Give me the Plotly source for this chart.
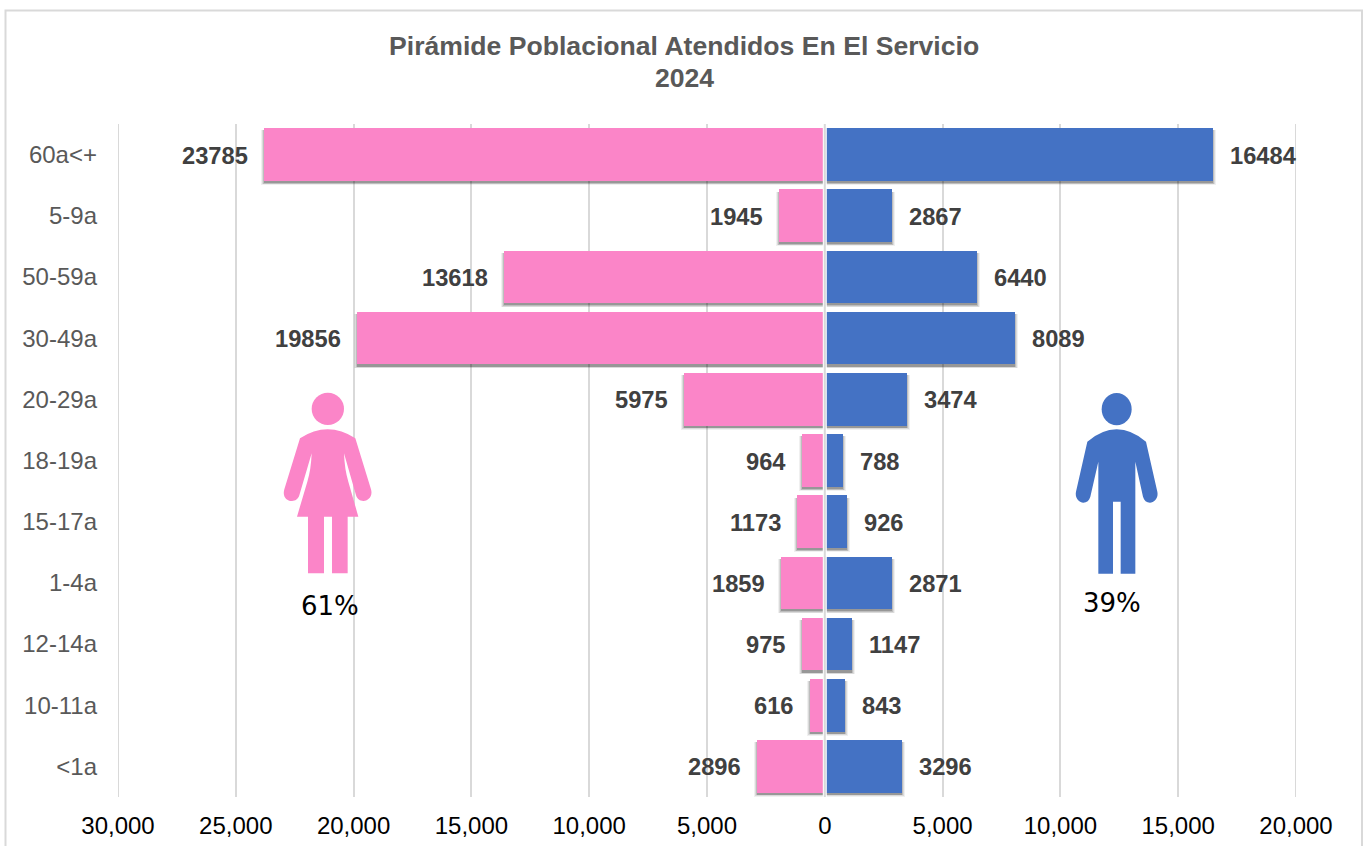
import plotly.graph_objects as go

W, H = 1370, 846
PL, PR, PT, PB = 118, 1296, 124, 797

categories = ["<1a", "10-11a", "12-14a", "1-4a", "15-17a", "18-19a", "20-29a", "30-49a", "50-59a", "5-9a", "60a<+"]
mujeres = [2896, 616, 975, 1859, 1173, 964, 5975, 19856, 13618, 1945, 23785]
hombres = [3296, 843, 1147, 2871, 926, 788, 3474, 8089, 6440, 2867, 16484]
tick_values = [-30000, -25000, -20000, -15000, -10000, -5000, 0, 5000, 10000, 15000, 20000]
tick_labels = ["30,000", "25,000", "20,000", "15,000", "10,000", "5,000", "0", "5,000", "10,000", "15,000", "20,000"]
title_line1 = "Pirámide Poblacional Atendidos En El Servicio"
title_line2 = "2024"
share_women = "61%"
share_men = "39%"

PINK = "#FB85C8"
BLUE = "#4472C4"
GRID = "#D9D9D9"
BAR_W = 0.86
ys = list(range(len(categories)))


def px(x):
    return (x - PL) / (PR - PL)


def py(y):
    return (PB - y) / (PB - PT)


def path(cmds, ox, oy):
    """Zoomed-crop outline (3x) to a paper-coordinate SVG path."""
    out = []
    for c in cmds:
        out.append(c[0])
        pts = c[1:]
        out.append(" ".join(f"{px(ox + pts[i] / 3):.5f},{py(oy + pts[i + 1] / 3):.5f}" for i in range(0, len(pts), 2)))
    return " ".join(out) + " Z"


woman = [
    ("M", 150, 205), ("Q", 233, 151, 316, 205), ("L", 363, 358), ("C", 370, 382, 350, 394, 340, 393),
    ("C", 330, 393, 322, 388, 318, 376), ("L", 282, 250), ("Q", 284, 300, 295, 335), ("L", 325, 440),
    ("L", 293, 440), ("L", 293, 610), ("L", 246, 610), ("L", 246, 440), ("L", 222, 440), ("L", 222, 610),
    ("L", 174, 610), ("L", 174, 440), ("L", 141, 440), ("L", 172, 335), ("Q", 183, 300, 185, 250),
    ("L", 148, 376), ("C", 144, 388, 136, 393, 126, 393), ("C", 112, 394, 96, 382, 103, 358),
]
man = [
    ("M", 112, 215), ("Q", 200, 141, 288, 215), ("L", 322, 365), ("C", 326, 385, 312, 398, 300, 398),
    ("C", 290, 398, 282, 392, 279, 380), ("L", 256, 275), ("L", 256, 611), ("L", 212, 611), ("L", 212, 395),
    ("L", 189, 395), ("L", 189, 611), ("L", 145, 611), ("L", 145, 275), ("L", 121, 380),
    ("C", 118, 392, 110, 398, 100, 398), ("C", 88, 398, 74, 385, 78, 365),
]

fig = go.Figure()

# soft drop shadow under the bars: stacked faint layers that fade outwards
for pad, shift, wid, alpha in [(3, 0.05, BAR_W + 0.03, 0.06), (2, 0.045, BAR_W + 0.02, 0.09),
                               (1, 0.04, BAR_W + 0.01, 0.13), (0, 0.035, BAR_W, 0.2)]:
    u = pad * 50000 / (PR - PL)
    for vals, sign in ((mujeres, -1), (hombres, 1)):
        fig.add_trace(go.Bar(
            x=[sign * (v + u) for v in vals], y=[i - shift for i in ys], orientation="h", width=wid,
            marker=dict(color="#000000", opacity=alpha, line_width=0), hoverinfo="skip", showlegend=False))

fig.add_trace(go.Bar(x=[-v for v in mujeres], y=ys, orientation="h", width=BAR_W, name="Mujeres",
                     marker=dict(color=PINK, line_width=0), showlegend=False))
fig.add_trace(go.Bar(x=hombres, y=ys, orientation="h", width=BAR_W, name="Hombres",
                     marker=dict(color=BLUE, line_width=0), showlegend=False))

annotations = []
LABEL = dict(color="#404040", size=23.7, family="Liberation Sans")
for i, (m, h) in enumerate(zip(mujeres, hombres)):
    annotations.append(dict(x=-m, y=i, xref="x", yref="y", text=f"<b>{m}</b>", showarrow=False,
                            xanchor="right", yanchor="middle", xshift=-14, yshift=-1, font=LABEL))
    annotations.append(dict(x=h, y=i, xref="x", yref="y", text=f"<b>{h}</b>", showarrow=False,
                            xanchor="left", yanchor="middle", xshift=15, yshift=-1, font=LABEL))

TITLE = dict(family="Liberation Sans", size=26.6, color="#595959")
for line, y in ((title_line1, 46.5), (title_line2, 77.5)):
    annotations.append(dict(x=px(684), y=py(y), xref="paper", yref="paper", text=f"<b>{line}</b>",
                            showarrow=False, xanchor="center", yanchor="middle", font=TITLE))
PCT = dict(family="DejaVu Sans", size=26, color="#000000")
annotations.append(dict(x=px(330), y=py(606), xref="paper", yref="paper", text=share_women, showarrow=False,
                        xanchor="center", yanchor="middle", font=PCT))
annotations.append(dict(x=px(1112), y=py(603), xref="paper", yref="paper", text=share_men, showarrow=False,
                        xanchor="center", yanchor="middle", font=PCT))

shapes = [
    dict(type="rect", xref="paper", yref="paper", x0=px(5.5), x1=px(1362), y0=py(10.5), y1=py(900),
         line=dict(color=GRID, width=2), fillcolor="rgba(0,0,0,0)", layer="below"),
    dict(type="line", xref="x", yref="paper", x0=tick_values[0], x1=tick_values[0], y0=0, y1=1,
         line=dict(color=GRID, width=2), layer="below"),
    dict(type="line", xref="x", yref="paper", x0=tick_values[-1], x1=tick_values[-1], y0=0, y1=1,
         line=dict(color=GRID, width=2), layer="below"),
    dict(type="line", xref="x", yref="paper", x0=0, x1=0, y0=0, y1=1, line=dict(color="#FFFFFF", width=4), layer="above"),
    dict(type="line", xref="x", yref="paper", x0=0, x1=0, y0=0, y1=1, line=dict(color=GRID, width=2), layer="above"),
    dict(type="path", xref="paper", yref="paper", path=path(woman, 250, 370), fillcolor=PINK, line_width=0),
    dict(type="circle", xref="paper", yref="paper", x0=px(250 + 185 / 3), x1=px(250 + 282 / 3),
         y0=py(370 + 165 / 3), y1=py(370 + 68 / 3), fillcolor=PINK, line_width=0),
    dict(type="path", xref="paper", yref="paper", path=path(man, 1050, 370), fillcolor=BLUE, line_width=0),
    dict(type="circle", xref="paper", yref="paper", x0=px(1050 + 155 / 3), x1=px(1050 + 245 / 3),
         y0=py(370 + 166 / 3), y1=py(370 + 69 / 3), fillcolor=BLUE, line_width=0),
]

fig.update_layout(
    width=W, height=H, barmode="overlay", bargap=0,
    margin=dict(l=PL, r=W - PR, t=PT, b=H - PB, autoexpand=False),
    paper_bgcolor="#FFFFFF", plot_bgcolor="#FFFFFF",
    annotations=annotations, shapes=shapes,
    xaxis=dict(range=[-30000, 20000], tickmode="array", tickvals=tick_values, ticktext=tick_labels,
               showgrid=True, gridcolor=GRID, gridwidth=2, zeroline=False, showline=False, ticks="",
               ticklabelstandoff=12, tickfont=dict(family="Liberation Sans", size=24, color="#000000")),
    yaxis=dict(range=[-0.5, 10.5], tickmode="array", tickvals=ys, ticktext=categories,
               showgrid=False, zeroline=False, showline=False, ticks="",
               ticklabelstandoff=20, tickfont=dict(family="Liberation Sans", size=24, color="#595959")),
)

fig.write_html("out.html", config=dict(displayModeBar=False),
               post_script="document.body.style.margin='0';document.body.style.overflow='hidden';")
